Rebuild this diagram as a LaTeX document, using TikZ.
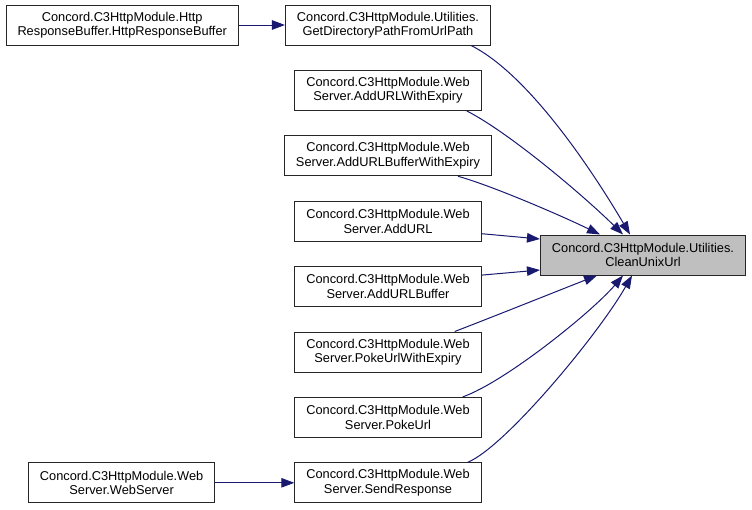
\documentclass[tikz,border=0pt]{standalone}
\usepackage{fontspec}
\setmainfont{Liberation Sans}
\usetikzlibrary{positioning,arrows.meta}
\definecolor{edgeblue}{RGB}{25,25,112}
\definecolor{curgray}{RGB}{191,191,191}
\tikzset{
  func/.style    = {draw=black!85, fill=white, align=center, line width=1pt,
                    font=\fontsize{12.8}{14.5}\selectfont, inner xsep=11.5pt, inner ysep=2pt, minimum height=40pt},
  curfunc/.style = {func, fill=curgray},
  calls/.style   = {-{Triangle[length=13pt,width=9.5pt]}, line width=1pt, draw=edgeblue},
}
\begin{document}
\begin{tikzpicture}[x=1pt, y=-1pt, node distance=24.4pt and 46pt]
  \useasboundingbox (0,0) rectangle (752,509);
  % callers
  \node[func] (getdir) at (388,25) {Concord.C3HttpModule.Utilities.\\GetDirectoryPathFromUrlPath};
  \node[func, below=of getdir] (addexp) {Concord.C3HttpModule.Web\\Server.AddURLWithExpiry};
  \node[func, below=of addexp] (addbufexp) {Concord.C3HttpModule.Web\\Server.AddURLBufferWithExpiry};
  \node[func, below=of addbufexp] (addurl) {Concord.C3HttpModule.Web\\Server.AddURL};
  \node[func, below=of addurl] (addbuf) {Concord.C3HttpModule.Web\\Server.AddURLBuffer};
  \node[func, below=of addbuf] (pokeexp) {Concord.C3HttpModule.Web\\Server.PokeUrlWithExpiry};
  \node[func, below=of pokeexp] (poke) {Concord.C3HttpModule.Web\\Server.PokeUrl};
  \node[func, below=of poke] (sendresp) {Concord.C3HttpModule.Web\\Server.SendResponse};
  % second level callers
  \node[func, left=of getdir] (hrb) {Concord.C3HttpModule.Http\\ResponseBuffer.HttpResponseBuffer};
  \node[func, left=79pt of sendresp] (websrv) {Concord.C3HttpModule.Web\\Server.WebServer};
  % the function itself
  \node[curfunc] (clean) at (643,255) {Concord.C3HttpModule.Utilities.\\CleanUnixUrl};

  \draw[calls] (hrb) -- (getdir);
  \draw[calls] (websrv) -- (sendresp);
  \draw[calls] ([xshift=-20pt]getdir.south east) .. controls (530,75) and (595,175) .. ([xshift=-13pt]clean.north);
  \draw[calls] ([xshift=-15pt]addexp.south east) .. controls (510,133) and (585,197) .. ([xshift=-20pt]clean.north);
  \draw[calls] ([xshift=-34pt]addbufexp.south east) .. controls (490,185) and (560,215) .. ([xshift=-43pt]clean.north);
  \draw[calls] ([yshift=8pt]addurl.south east) -- ([yshift=16pt]clean.west);
  \draw[calls] ([yshift=-9pt]addbuf.north east) -- ([yshift=-15pt]clean.west);
  \draw[calls] ([xshift=-27pt]pokeexp.north east) .. controls (490,318) and (565,288) .. ([xshift=-46pt]clean.south);
  \draw[calls] ([xshift=-19pt]poke.north east) .. controls (505,382) and (592,312) .. ([xshift=-20pt]clean.south);
  \draw[calls] ([xshift=-14pt]sendresp.north east) .. controls (505,447) and (598,335) .. ([xshift=-11pt]clean.south);
\end{tikzpicture}
\end{document}
